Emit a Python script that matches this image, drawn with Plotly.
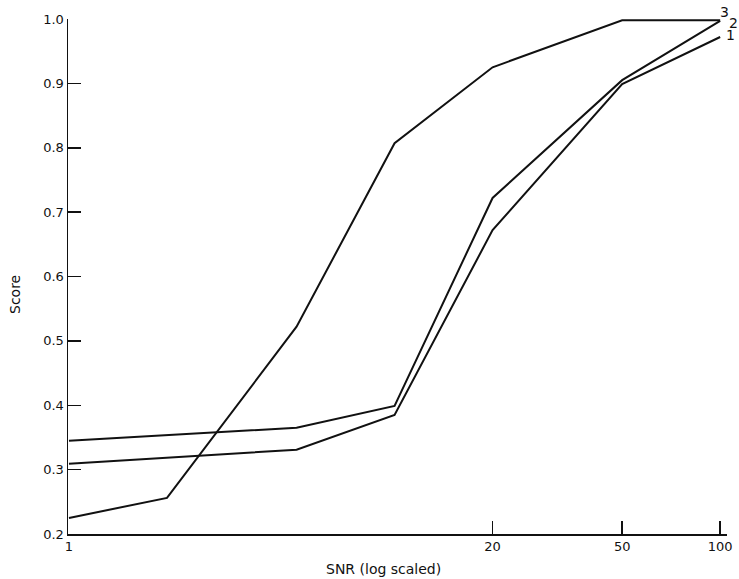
import plotly.graph_objects as go

snr_3 = [1, 2, 5, 10, 20, 50, 100]
score_3 = [0.225, 0.256, 0.522, 0.807, 0.925, 0.998, 0.998]

snr_2 = [1, 5, 10, 20, 50, 100]
score_2 = [0.345, 0.365, 0.399, 0.722, 0.905, 0.997]

snr_1 = [1, 5, 10, 20, 50, 100]
score_1 = [0.309, 0.331, 0.385, 0.672, 0.899, 0.972]

x_ticks = [1, 20, 50, 100]
x_ticklabels = ["1", "20", "50", "100"]
y_ticks = [0.2, 0.3, 0.4, 0.5, 0.6, 0.7, 0.8, 0.9, 1.0]
y_ticklabels = ["0.2", "0.3", "0.4", "0.5", "0.6", "0.7", "0.8", "0.9", "1.0"]

FONT = "DejaVu Sans"
line_style = dict(color="#111111", width=2)

# page body margin is removed by the post script, so the figure starts at (0, 0)
W, H = 739, 579
L, T = 68, 19
R = W - 727
B = H - 534
pw, ph = W - L - R, H - T - B

def px_to_paper_x(px):
    return (px - L) / pw

def px_to_paper_y(py):
    return 1 - (py - T) / ph

fig = go.Figure()
for xs, ys, name in [(snr_1, score_1, "1"), (snr_2, score_2, "2"), (snr_3, score_3, "3")]:
    fig.add_trace(go.Scatter(x=xs, y=ys, mode="lines", line=line_style, name=name,
                             showlegend=False, hoverinfo="skip", cliponaxis=False))

lab_font = dict(family=FONT, size=14, color="#111")
end_font = dict(family=FONT, size=14, color="#111")
# end labels (x in log10 units for annotations on a log axis)
fig.add_annotation(x=2, y=score_3[-1], text="3", showarrow=False, xref="x", yref="y",
                   xshift=4, yshift=8, font=end_font)
fig.add_annotation(x=2, y=score_2[-1], text="2", showarrow=False, xref="x", yref="y",
                   xshift=13, yshift=-2, font=end_font)
fig.add_annotation(x=2, y=score_1[-1], text="1", showarrow=False, xref="x", yref="y",
                   xshift=10, yshift=2, font=end_font)

# axis titles
fig.add_annotation(x=px_to_paper_x(383), y=px_to_paper_y(569), xref="paper", yref="paper",
                   text="SNR (log scaled)", showarrow=False, xanchor="center", yanchor="middle",
                   font=lab_font)
fig.add_annotation(x=px_to_paper_x(15), y=px_to_paper_y(295), xref="paper", yref="paper",
                   text="Score", showarrow=False, textangle=-90,
                   xanchor="center", yanchor="middle", font=lab_font)

fig.update_layout(
    width=W, height=H,
    margin=dict(l=L, r=R, t=T, b=B, autoexpand=False),
    paper_bgcolor="white", plot_bgcolor="white",
    font=dict(family=FONT, size=13, color="#111"),
    xaxis=dict(type="log", range=[-0.003, 2.021], tickvals=x_ticks, ticktext=x_ticklabels,
               automargin=False,
               showgrid=False, zeroline=False, showline=True, linecolor="#111", linewidth=1.5,
               ticks="inside", ticklen=13, tickwidth=1.5, tickcolor="#111",
               tickfont=dict(family=FONT, size=13, color="#111")),
    yaxis=dict(range=[0.2, 1.0], tickvals=y_ticks, ticktext=y_ticklabels,
               automargin=False,
               showgrid=False, zeroline=False, showline=True, linecolor="#111", linewidth=1.5,
               ticks="inside", ticklen=13, tickwidth=1.5, tickcolor="#111",
               tickfont=dict(family=FONT, size=13, color="#111")),
)

fig.write_html("out.html",
               config={"displayModeBar": False, "staticPlot": True},
               post_script="document.body.style.margin='0';document.body.style.overflow='hidden';")
